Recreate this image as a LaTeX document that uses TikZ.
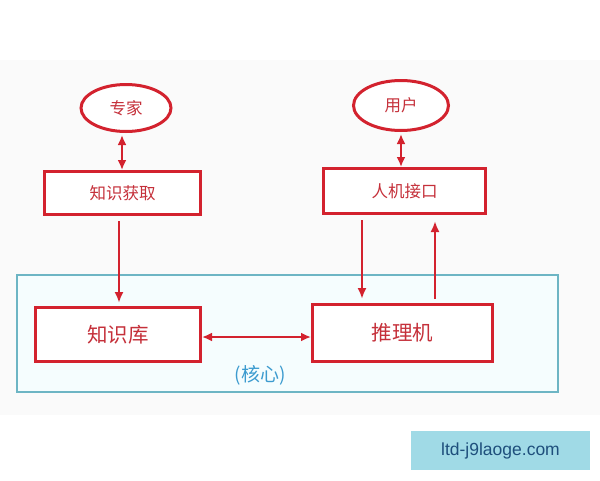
\documentclass[tikz,border=0pt]{standalone}
\usepackage{fontspec}
\setmainfont{Noto Sans CJK SC}
\newfontfamily\wmfont{Liberation Sans}
\usetikzlibrary{arrows.meta,shapes.geometric}
\definecolor{lred}{HTML}{D3222E}
\definecolor{tred}{HTML}{C5303A}
\definecolor{fblue}{HTML}{6DB5C4}
\definecolor{kblue}{HTML}{3C9BCF}
\definecolor{bggray}{HTML}{FAFAFA}
\definecolor{framefill}{HTML}{F5FDFE}
\definecolor{wmbg}{HTML}{A0DAE6}
\definecolor{wmtext}{HTML}{1E4F7C}
\tikzset{
  redbox/.style={draw=lred, line width=3pt, fill=white, text=tred, inner sep=0pt},
  redell/.style={ellipse, draw=lred, line width=3pt, fill=white, text=tred, inner sep=0pt, font=\fontsize{16.5}{18}\selectfont},
  conn/.style={draw=lred, line width=2.6pt, arrows={-Latex[length=11pt,width=9pt]}},
  bconn/.style={draw=lred, line width=2.6pt, arrows={Latex[length=10pt,width=9pt]-Latex[length=10pt,width=9pt]}}
}
\begin{document}
\begin{tikzpicture}[x=1pt,y=-1pt]
\useasboundingbox (0,0) rectangle (600,480);
\fill[white] (0,0) rectangle (600,480);
\fill[bggray] (0,60) rectangle (600,415);
\draw[fblue, line width=1.2pt, fill=framefill] (17,275) rectangle (558,392);
\node[kblue, font=\fontsize{19}{21}\selectfont] (core) at (260,375) {(核心)};

\node[redell, minimum width=90pt, minimum height=47pt] (e1) at (126,108) {专家};
\node[redell, minimum width=95pt, minimum height=50pt] (e2) at (401,105.5) {用户};

\node[redbox, minimum width=156pt, minimum height=43pt, font=\fontsize{16.5}{18}\selectfont] (b1) at (122.5,193) {知识获取};
\node[redbox, minimum width=162pt, minimum height=45pt, font=\fontsize{16.5}{18}\selectfont] (b2) at (404.5,191) {人机接口};
\node[redbox, minimum width=165pt, minimum height=54pt, font=\fontsize{20.5}{22}\selectfont] (b3) at (118,334.5) {知识库};
\node[redbox, minimum width=180pt, minimum height=57pt, font=\fontsize{20.5}{22}\selectfont] (b4) at (402.5,333) {推理机};

\draw[bconn, shorten <=2pt, shorten >=0pt] ([xshift=-0.5pt]b1.north |- e1.south) -- ([xshift=-0.5pt]b1.north);
\draw[bconn, shorten <=2pt, shorten >=0pt] (e2.south) -- (e2.south |- b2.north);
\draw[conn, shorten <=5pt, shorten >=3pt] ([xshift=-3.5pt]b1.south) -- ([xshift=-3.5pt]b1.south |- b3.north);
\draw[conn, shorten <=5pt, shorten >=4pt] ([xshift=-42.5pt]b2.south) -- ([xshift=-42.5pt]b2.south |- b4.north);
\draw[conn, shorten <=4pt, shorten >=6pt] ([xshift=30.5pt]b2.south |- b4.north) -- ([xshift=30.5pt]b2.south);
\draw[bconn, shorten <=0pt, shorten >=0pt] ([yshift=-2.5pt]b3.east) -- ([yshift=-2.5pt]b3.east -| b4.west);

\node[fill=wmbg, minimum width=179pt, minimum height=39pt, inner sep=0pt, text=wmtext, font=\wmfont\fontsize{17.5}{19}\selectfont] (wm) at (500.5,450.5) {ltd-j9laoge.com};
\end{tikzpicture}
\end{document}
